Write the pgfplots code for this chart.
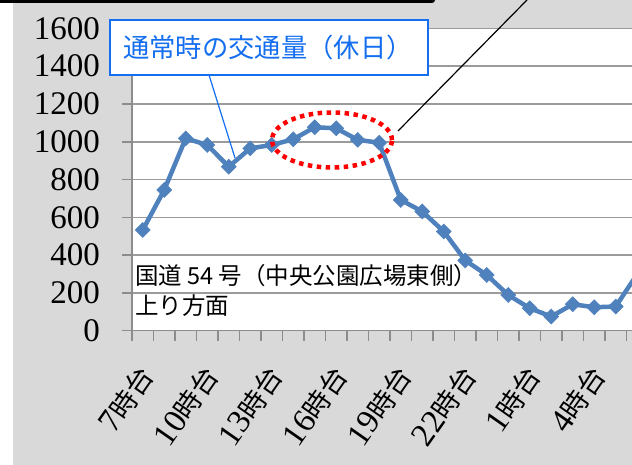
\documentclass[border=0pt]{standalone}
\usepackage{pgfplots}
\pgfplotsset{compat=1.18}
\usepackage{fontspec}
\setmainfont{Liberation Serif}
\newfontfamily\serif{Liberation Serif}
\newfontfamily\cjk{Noto Sans CJK JP}
\newcommand{\jt}{{\cjk\fontsize{27}{27}\selectfont 時台}}
\definecolor{bggray}{RGB}{217,217,217}
\definecolor{gridgray}{RGB}{155,155,155}
\definecolor{axisgray}{RGB}{140,140,140}
\definecolor{lineblue}{RGB}{79,129,189}
\definecolor{callblue}{RGB}{20,110,240}
\begin{document}
\begin{tikzpicture}[x=1pt,y=1pt]
\useasboundingbox (0,0) rectangle (632,465);
\clip (0,0) rectangle (632,465);
\fill[bggray] (0,0) rectangle (632,465);
\fill[white] (0,0) rectangle (13,465);
\fill[black, rounded corners=3pt] (-10,462) rectangle (435,475);
\begin{axis}[
  at={(132pt,134.3pt)}, anchor=south west,
  scale only axis, width=500pt, height=302.3pt,
  xmin=-0.5, xmax=22.756, ymin=0, ymax=1600,
  axis background/.style={fill=white},
  axis lines=left,
  axis line style={-, draw=axisgray, line width=1.5pt},
  clip marker paths=true,
  ytick={0,200,...,1600},
  ymajorgrids,
  major grid style={draw=gridgray, line width=1.6pt},
  tick style={draw=axisgray, line width=1.5pt},
  tick align=outside,
  major tick length=10pt,
  xtick={-0.5,0.5,...,22.5},
  xticklabels={},
  extra x ticks={0,3,6,9,12,15,18,21},
  extra x tick labels={7\jt,10\jt,13\jt,16\jt,19\jt,22\jt,1\jt,4\jt},
  extra x tick style={tick style={draw=none}, tick align=inside, grid=none,
    xticklabel style={xshift=4pt, yshift=-40pt, rotate=55, anchor=east, inner sep=0pt, font=\serif\fontsize{33}{33}\selectfont}},
  /pgf/number format/assume math mode=true,
  /pgf/number format/1000 sep={},
  yticklabel style={font=\serif\fontsize{33}{33}\selectfont, anchor=east, inner sep=0pt, xshift=-22pt},
]
\addplot[color=lineblue, line width=4.5pt, mark=square*, mark size=5.3pt,
  mark options={rotate=45, fill=lineblue, draw=lineblue, line width=0.5pt}]
  coordinates {
  (0,533) (1,745) (2,1018) (3,983) (4,868) (5,965) (6,983) (7,1013)
  (8,1077) (9,1071) (10,1010) (11,995) (12,692) (13,631) (14,525) (15,372)
  (16,295) (17,189) (18,119) (19,75) (20,140) (21,124) (22,128) (23,300)
  };
\end{axis}
\node[anchor=west, inner sep=0pt, font=\cjk\fontsize{23.5}{23.5}\selectfont] at (135,189.5) {国道 54 号（中央公園広場東側）};
\node[anchor=west, inner sep=0pt, font=\cjk\fontsize{23.5}{23.5}\selectfont] at (135,159) {上り方面};
\draw[red, line width=4.5pt, dash pattern=on 4.5pt off 4.5pt] (332,325) ellipse [x radius=60, y radius=27.5];
\draw[black, line width=1.2pt] (398,334) -- (527,465);
\draw[callblue, line width=1.2pt] (209,390) -- (235,307);
\draw[callblue, fill=white, line width=1.6pt] (110,445) rectangle (428,390);
\node[inner sep=0pt, text=callblue, font=\cjk\fontsize{26.3}{26.3}\selectfont] at (268,417.5) {通常時の交通量（休日）};
\end{tikzpicture}
\end{document}
